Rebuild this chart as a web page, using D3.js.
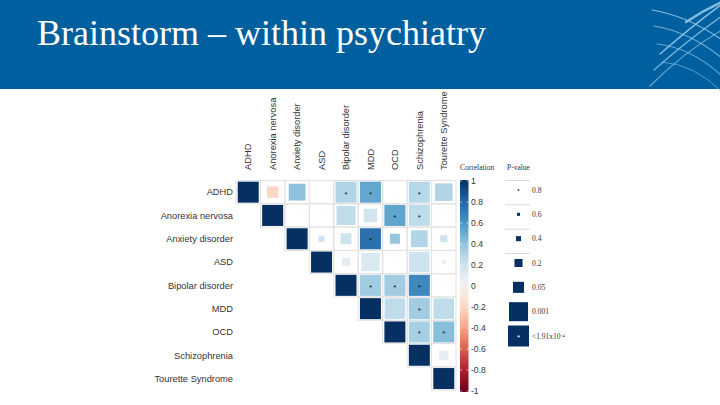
<!DOCTYPE html>
<html>
<head>
<meta charset="utf-8">
<script src="https://cdn.jsdelivr.net/npm/d3@7"></script>
<style>
  html, body { margin: 0; padding: 0; background: #fff; }
  svg { display: block; }
</style>
</head>
<body>
<script>
// ---------------- DATA ----------------
const titleText = "Brainstorm \u2013 within psychiatry";
const categories = ["ADHD", "Anorexia nervosa", "Anxiety disorder", "ASD", "Bipolar disorder",
                    "MDD", "OCD", "Schizophrenia", "Tourette Syndrome"];

// correlation (upper triangle, row = category, values from the diagonal onward)
const corrADHD      = [1, -0.2, 0.4, 0.0, 0.3, 0.52, -0.05, 0.28, 0.3];
const corrAnorexia  = [1, 0.03, 0.03, 0.25, 0.18, 0.53, 0.25, -0.03];
const corrAnxiety   = [1, 0.2, 0.2, 0.75, 0.38, 0.3, 0.2];
const corrASD       = [1, 0.1, 0.15, -0.03, 0.2, 0.05];
const corrBipolar   = [1, 0.35, 0.35, 0.65, 0.03];
const corrMDD       = [1, 0.25, 0.35, 0.25];
const corrOCD       = [1, 0.33, 0.42];
const corrSchizo    = [1, 0.08];
const corrTourette  = [1];

// p-values (same layout; diagonal = 0)
const pADHD      = [0, 0.04, 0.003, 0.97, 1e-5, 1e-5, 0.8, 1e-5, 0.002];
const pAnorexia  = [0, 0.85, 0.85, 0.001, 0.015, 1e-5, 1e-5, 0.8];
const pAnxiety   = [0, 0.32, 0.05, 1e-5, 0.08, 0.003, 0.25];
const pASD       = [0, 0.19, 0.0015, 0.8, 3e-4, 0.5];
const pBipolar   = [0, 1e-5, 1e-5, 1e-5, 0.85];
const pMDD       = [0, 3e-4, 1e-5, 3e-4];
const pOCD       = [0, 1e-5, 1e-5];
const pSchizo    = [0, 0.11];
const pTourette  = [0];

const corrRows = [corrADHD, corrAnorexia, corrAnxiety, corrASD, corrBipolar, corrMDD, corrOCD, corrSchizo, corrTourette];
const pRows    = [pADHD, pAnorexia, pAnxiety, pASD, pBipolar, pMDD, pOCD, pSchizo, pTourette];

const pThreshold = 1.91e-4;
const corrTicks = [1, 0.8, 0.6, 0.4, 0.2, 0, -0.2, -0.4, -0.6, -0.8, -1];
const pLegendValues = [0.8, 0.6, 0.4, 0.2, 0.05, 0.001, 1.91e-4];
const pLegendLabels = ["0.8", "0.6", "0.4", "0.2", "0.05", "0.001", "<1.91x10"];

// ---------------- CHART ----------------
const W = 720, H = 405;
const svg = d3.select("body").append("svg").attr("width", W).attr("height", H);

// header bar
svg.append("rect").attr("x", 0).attr("y", 0).attr("width", W).attr("height", 89).attr("fill", "#005f9f");
const deco = svg.append("g").attr("fill", "none").attr("stroke", "#8fc6ea").attr("stroke-linecap", "round");
[
  ["M652,10 Q688,16 722,40", 0.9, 1.2],
  ["M654,26 Q690,32 722,58", 0.8, 1.2],
  ["M657,44 Q692,48 722,76", 0.7, 1.1],
  ["M662,62 Q694,64 722,92", 0.6, 1.0],
  ["M650,86 Q684,52 722,30", 0.7, 1.2],
  ["M654,70 Q688,40 722,16", 0.8, 1.3],
  ["M660,54 Q692,26 722,4", 0.9, 1.6],
  ["M686,22 Q704,10 722,2", 0.9, 2.4]
].forEach(([d, o, w]) => deco.append("path").attr("d", d).attr("stroke-opacity", o).attr("stroke-width", w));

svg.append("text").attr("x", 37).attr("y", 45)
  .attr("font-family", "Liberation Serif, Times New Roman, serif")
  .attr("font-size", 36).attr("fill", "#fff").text(titleText);

// scales
const x = d3.scaleBand().domain(categories).range([236, 456]).padding(0);
const y = d3.scaleBand().domain(categories).range([180.5, 390.2]).padding(0);
const color = v => d3.interpolateRdBu((v + 1) / 2);
const sizeScale = d3.scaleLinear()
  .domain([0, ...pLegendValues.map(p => -Math.log10(p))])
  .range([0, 1.5, 3, 5, 8, 11, 19, 21])
  .clamp(true);
const sizeOf = p => sizeScale(-Math.log10(Math.max(p, 1e-12)));

// cells
const cells = [];
corrRows.forEach((row, i) => {
  row.forEach((c, k) => {
    const j = i + k;
    cells.push({ row: categories[i], col: categories[j], corr: c, p: pRows[i][k], diag: i === j });
  });
});

const g = svg.append("g");
// grid
g.selectAll("rect.grid").data(cells).join("rect").attr("class", "grid")
  .attr("x", d => x(d.col)).attr("y", d => y(d.row))
  .attr("width", x.bandwidth()).attr("height", y.bandwidth())
  .attr("fill", "none").attr("stroke", "#e2e2e2").attr("stroke-width", 1);

// squares
g.selectAll("rect.sq").data(cells).join("rect").attr("class", "sq")
  .attr("x", d => x(d.col) + x.bandwidth() / 2 - sizeOf(d.p) / 2)
  .attr("y", d => y(d.row) + y.bandwidth() / 2 - sizeOf(d.p) / 2)
  .attr("width", d => sizeOf(d.p)).attr("height", d => sizeOf(d.p))
  .attr("fill", d => color(d.corr));

// asterisks
g.selectAll("text.star").data(cells.filter(d => !d.diag && d.p < pThreshold)).join("text").attr("class", "star")
  .attr("x", d => x(d.col) + x.bandwidth() / 2)
  .attr("y", d => y(d.row) + y.bandwidth() / 2 + 4.4)
  .attr("text-anchor", "middle")
  .attr("font-family", "Liberation Sans, Arial, sans-serif").attr("font-size", 8)
  .attr("fill", "#111").text("*");

// row labels
svg.append("g").selectAll("text").data(categories).join("text")
  .attr("x", 233).attr("y", d => y(d) + y.bandwidth() / 2)
  .attr("dy", "0.35em").attr("text-anchor", "end")
  .attr("font-family", "Liberation Sans, Arial, sans-serif").attr("font-size", 9.3)
  .attr("fill", "#333").text(d => d);

// column labels
svg.append("g").selectAll("text").data(categories).join("text")
  .attr("transform", d => `translate(${x(d) + x.bandwidth() / 2},170) rotate(-90)`)
  .attr("dy", "0.35em").attr("text-anchor", "start")
  .attr("font-family", "Liberation Sans, Arial, sans-serif").attr("font-size", 9.3)
  .attr("fill", "#333").text(d => d);

// ---------- colour legend ----------
const cy = d3.scaleLinear().domain([1, -1]).range([181, 391]);
const defs = svg.append("defs");
const grad = defs.append("linearGradient").attr("id", "cbar").attr("x1", 0).attr("y1", 0).attr("x2", 0).attr("y2", 1);
d3.range(0, 1.0001, 0.05).forEach(t => {
  grad.append("stop").attr("offset", t).attr("stop-color", color(1 - 2 * t));
});
svg.append("text").attr("x", 460).attr("y", 170)
  .attr("font-family", "Liberation Serif, Times New Roman, serif").attr("font-size", 7.5)
  .attr("fill", "#333").text("Correlation");
svg.append("rect").attr("x", 460).attr("y", cy(1) - 1).attr("width", 8.5).attr("height", cy(-1) - cy(1) + 2)
  .attr("fill", "url(#cbar)");
const tg = svg.append("g");
tg.selectAll("line.l").data(corrTicks).join("line").attr("class", "l")
  .attr("x1", 460).attr("x2", 462).attr("y1", d => cy(d)).attr("y2", d => cy(d))
  .attr("stroke", "#fff").attr("stroke-width", 0.6);
tg.selectAll("line.r").data(corrTicks).join("line").attr("class", "r")
  .attr("x1", 466.5).attr("x2", 468.5).attr("y1", d => cy(d)).attr("y2", d => cy(d))
  .attr("stroke", "#fff").attr("stroke-width", 0.6);
tg.selectAll("text").data(corrTicks).join("text")
  .attr("x", 471).attr("y", d => cy(d)).attr("dy", "0.35em")
  .attr("font-family", "Liberation Sans, Arial, sans-serif").attr("font-size", 8.6)
  .attr("fill", "#333").text(d => d);

// ---------- p-value legend ----------
const py = d3.scalePoint().domain(d3.range(pLegendValues.length)).range([190, 336]);
svg.append("text").attr("x", 507).attr("y", 170)
  .attr("font-family", "Liberation Serif, Times New Roman, serif").attr("font-size", 7.5)
  .attr("fill", "#333").text("P-value");
const pl = svg.append("g");
pl.selectAll("line").data(d3.range(4)).join("line")
  .attr("x1", 505).attr("x2", 530).attr("y1", i => py(i) - 9.5).attr("y2", i => py(i) - 9.5)
  .attr("stroke", "#d0d0d0").attr("stroke-width", 0.8);
pl.selectAll("rect").data(pLegendValues).join("rect")
  .attr("x", (d) => 518.5 - sizeOf(d * 0.99) / 2).attr("y", (d, i) => py(i) - sizeOf(d * 0.99) / 2)
  .attr("width", d => sizeOf(d * 0.99)).attr("height", d => sizeOf(d * 0.99))
  .attr("fill", "#053061");
pl.append("text").attr("x", 518.5).attr("y", py(6) + 4.4).attr("text-anchor", "middle")
  .attr("font-family", "Liberation Sans, Arial, sans-serif").attr("font-size", 8).attr("fill", "#fff").text("*");
const lt = pl.selectAll("text.lab").data(pLegendLabels).join("text").attr("class", "lab")
  .attr("x", 532).attr("y", (d, i) => py(i)).attr("dy", "0.35em")
  .attr("font-family", "Liberation Serif, Times New Roman, serif").attr("font-size", 7.5)
  .attr("fill", "#333").text(d => d);
lt.filter((d, i) => i === pLegendLabels.length - 1)
  .append("tspan").attr("dy", "-0.4em").attr("font-size", 5).text("-4");
</script>
</body>
</html>
